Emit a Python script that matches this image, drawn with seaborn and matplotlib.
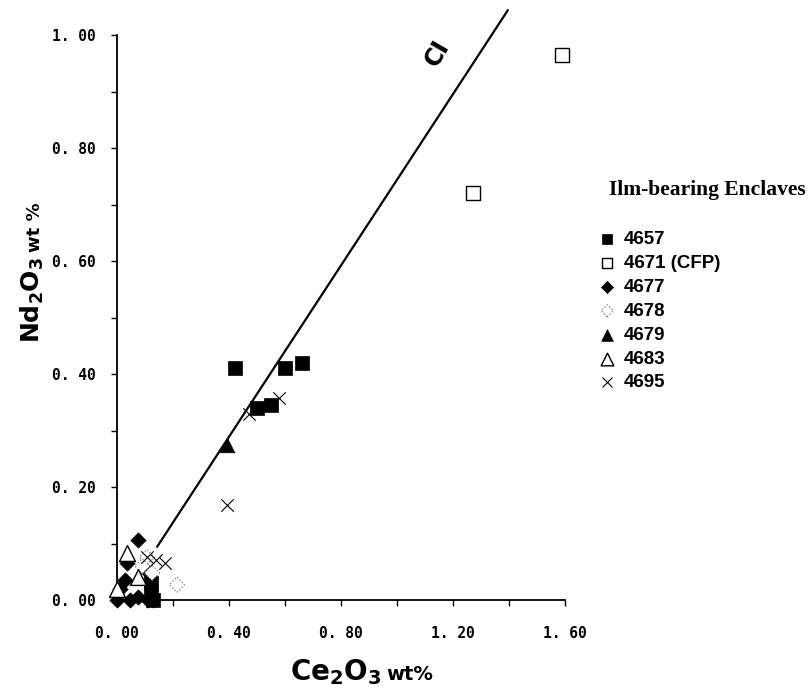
import matplotlib
matplotlib.use("Agg")
import matplotlib.pyplot as plt
import seaborn as sns
import pandas as pd

# ---------------- data ----------------
x_4657 = [0.42, 0.60, 0.66, 0.50, 0.55, 0.12, 0.12, 0.13]
y_4657 = [0.41, 0.41, 0.42, 0.34, 0.345, 0.03, 0.01, 0.00]

x_4671 = [1.59, 1.27]
y_4671 = [0.965, 0.72]

x_4677 = [0.075, 0.035, 0.11, 0.01, 0.00, 0.045, 0.075, 0.03, 0.11, 0.13]
y_4677 = [0.106, 0.065, 0.05, 0.02, 0.00, 0.00, 0.005, 0.035, 0.00, 0.00]

x_4678 = [0.107, 0.125, 0.214, 0.09]
y_4678 = [0.076, 0.048, 0.027, 0.06]

x_4679 = [0.393]
y_4679 = [0.275]

x_4683 = [0.036, 0.075, 0.00]
y_4683 = [0.083, 0.041, 0.02]

x_4695 = [0.58, 0.47, 0.393, 0.107, 0.17, 0.14]
y_4695 = [0.357, 0.33, 0.168, 0.076, 0.066, 0.07]

ci_x = [0.143, 1.396]
ci_y = [0.094, 1.044]

x_ticks = [0.0, 0.2, 0.4, 0.6, 0.8, 1.0, 1.2, 1.4, 1.6]
x_ticklabels = ["0. 00", "", "0. 40", "", "0. 80", "", "1. 20", "", "1. 60"]
y_ticks = [0.0, 0.1, 0.2, 0.3, 0.4, 0.5, 0.6, 0.7, 0.8, 0.9, 1.0]
y_ticklabels = ["0. 00", "", "0. 20", "", "0. 40", "", "0. 60", "", "0. 80", "", "1. 00"]

legend_title = "Ilm-bearing Enclaves"

# ---------------- style ----------------
sns.set_style("ticks")
plt.rcParams["font.family"] = ["DejaVu Sans"]
plt.rcParams["mathtext.fontset"] = "dejavusans"
for key in ("text.color", "axes.labelcolor", "xtick.color", "ytick.color", "axes.edgecolor"):
    plt.rcParams[key] = "black"

W, H = 808, 698
fig = plt.figure(figsize=(W / 100, H / 100), dpi=100)
ax = fig.add_axes([117 / W, 98 / H, 448 / W, 565 / H])

groups = [
    ("4657", x_4657, y_4657, dict(marker="s", s=90, color="black", edgecolor="black", linewidth=0.5)),
    ("4671 (CFP)", x_4671, y_4671, dict(marker="s", s=90, facecolor="white", edgecolor="black", linewidth=1.0)),
    ("4677", x_4677, y_4677, dict(marker="D", s=60, color="black", edgecolor="black", linewidth=0.5)),
    ("4678", x_4678, y_4678, dict(marker="D", s=60, facecolor="white", edgecolor="#777777",
                                   linewidth=0.9, linestyle=":")),
    ("4679", x_4679, y_4679, dict(marker="^", s=110, color="black", edgecolor="black", linewidth=0.5)),
    ("4683", x_4683, y_4683, dict(marker="^", s=130, facecolor="white", edgecolor="black", linewidth=1.0)),
    ("4695", x_4695, y_4695, dict(marker="x", s=80, color="black", linewidth=0.8)),
]

for label, xs, ys, kw in groups:
    df = pd.DataFrame({"x": xs, "y": ys})
    sns.scatterplot(data=df, x="x", y="y", ax=ax, label=label, clip_on=False, zorder=3, **kw)

sns.lineplot(x=ci_x, y=ci_y, ax=ax, color="black", linewidth=1.6, clip_on=False, zorder=2,
             legend=False)

ax.set_xlim(0, 1.6)
ax.set_ylim(0, 1.0)
ax.set_xticks(x_ticks)
ax.set_xticklabels(x_ticklabels)
ax.set_yticks(y_ticks)
ax.set_yticklabels(y_ticklabels)
ax.set_xlabel("")
ax.set_ylabel("")
sns.despine(ax=ax)
for sp in ("left", "bottom"):
    ax.spines[sp].set_linewidth(1.3)
    ax.spines[sp].set_color("black")
ax.tick_params(axis="x", direction="out", length=4.5, width=1.0, pad=14, colors="black")
ax.tick_params(axis="y", direction="out", length=4.5, width=1.0, pad=11, colors="black")
for t in ax.get_xticklabels() + ax.get_yticklabels():
    t.set_fontfamily("DejaVu Sans Mono")
    t.set_fontweight("bold")
    t.set_fontsize(10.5)

# CI label
ax.text(1.143, 0.968, "CI", rotation=60, ha="center", va="center",
        fontsize=17, fontweight="heavy", fontfamily="DejaVu Sans", color="black")

# axis labels
fig.text(382 / W, 1 - 680 / H, r"$\mathbf{Ce_2O_3}$", fontsize=20, ha="right", va="baseline",
         color="black")
fig.text(386 / W, 1 - 680 / H, "wt%", fontsize=14, fontweight="bold", ha="left", va="baseline",
         color="black")
fig.text(40 / W, 1 - 343 / H, r"$\mathbf{Nd_2O_3}$", fontsize=18, rotation=90,
         rotation_mode="anchor", ha="left", va="baseline", color="black")
fig.text(40 / W, 1 - 252 / H, "wt %", fontsize=13, fontweight="bold", rotation=90,
         rotation_mode="anchor", ha="left", va="baseline", color="black")

# legend
h, l = ax.get_legend_handles_labels()
leg = ax.legend(h, l, loc="upper left", bbox_to_anchor=(596 / W, 1 - 231 / H),
                bbox_transform=fig.transFigure, frameon=False,
                prop=dict(family="Liberation Sans", weight="bold", size=13.5),
                handletextpad=0.3, labelspacing=0.36, markerscale=0.8, handlelength=1.2,
                borderaxespad=0, borderpad=0)
for t in leg.get_texts():
    t.set_color("black")
fig.text(609 / W, 1 - 190 / H, legend_title, fontsize=15.5, fontweight="bold",
         fontfamily="Liberation Serif", ha="left", va="center", color="black")

fig.savefig("out.png", dpi=100)
